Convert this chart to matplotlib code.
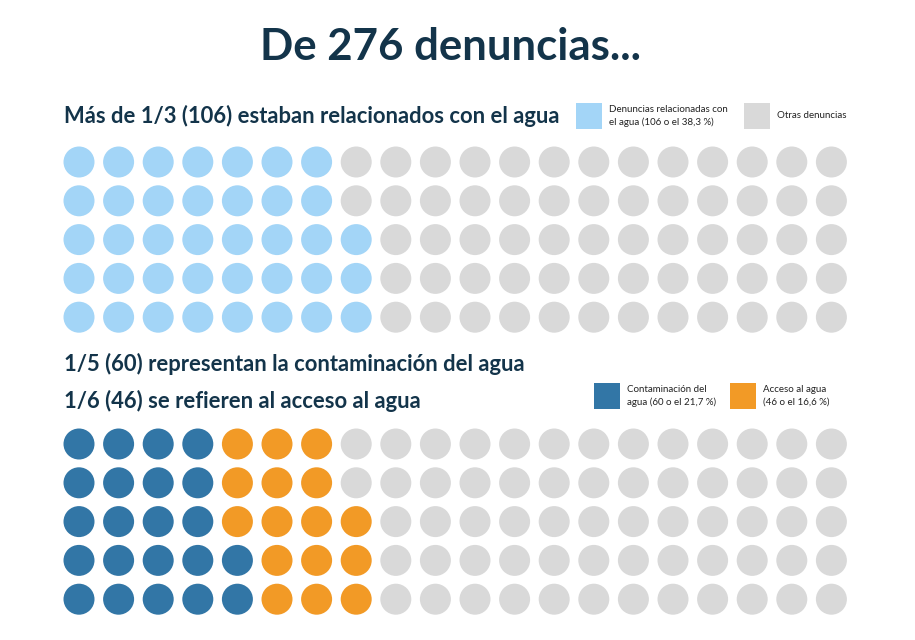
import matplotlib
matplotlib.use("Agg")
import matplotlib.pyplot as plt
from matplotlib.patches import Circle, Rectangle

title = "De 276 denuncias..."
sub1 = "Más de 1/3 (106) estaban relacionados con el agua"
sub2a = "1/5 (60) representan la contaminación del agua"
sub2b = "1/6 (46) se refieren al acceso al agua"
top_counts = [38, 62]
top_colors = ["#a3d5f7", "#d9d9d9"]
top_labels = ["Denuncias relacionadas con\nel agua (106 o el 38,3 %)", "Otras denuncias"]
bot_counts = [22, 16, 62]
bot_colors = ["#3276a6", "#f29a26", "#d9d9d9"]
bot_labels = ["Contaminación del\nagua (60 o el 21,7 %)", "Acceso al agua\n(46 o el 16,6 %)"]
nrows, ncols = 5, 20

plt.rcParams['font.family'] = ['Lato', 'DejaVu Sans']
fig = plt.figure(figsize=(9.15, 6.4), dpi=100)
ax = fig.add_axes([0, 0, 1, 1])
ax.set_xlim(0, 915); ax.set_ylim(640, 0); ax.axis('off')
navy = "#13344a"

def waffle(counts, colors, y0):
    seq = []
    for c, col in zip(counts, colors):
        seq += [col] * c
    for i, col in enumerate(seq):
        cidx = i // nrows
        ridx = nrows - 1 - (i % nrows)
        ax.add_patch(Circle((79 + cidx * 39.6, y0 + ridx * 38.8), 15.5, color=col, lw=0))

waffle(top_counts, top_colors, 162)
waffle(bot_counts, bot_colors, 444)

ax.text(450, 47, title, ha='center', va='center', fontsize=31.5, fontweight='bold', color=navy)
ax.text(64, 116, sub1, ha='left', va='center', fontsize=15.8, fontweight='bold', color=navy)
ax.text(64, 364, sub2a, ha='left', va='center', fontsize=15.8, fontweight='bold', color=navy)
ax.text(64, 401, sub2b, ha='left', va='center', fontsize=15.8, fontweight='bold', color=navy)

def legend_item(x, y, col, lab):
    ax.add_patch(Rectangle((x, y - 13), 26, 26, color=col, lw=0))
    ax.text(x + 33, y, lab, ha='left', va='center', fontsize=7, color='#222222', linespacing=1.5)

legend_item(576, 116, top_colors[0], top_labels[0])
legend_item(744, 116, top_colors[1], top_labels[1])
legend_item(594, 396, bot_colors[0], bot_labels[0])
legend_item(730, 396, bot_colors[1], bot_labels[1])

fig.savefig("out.png", dpi=100)
